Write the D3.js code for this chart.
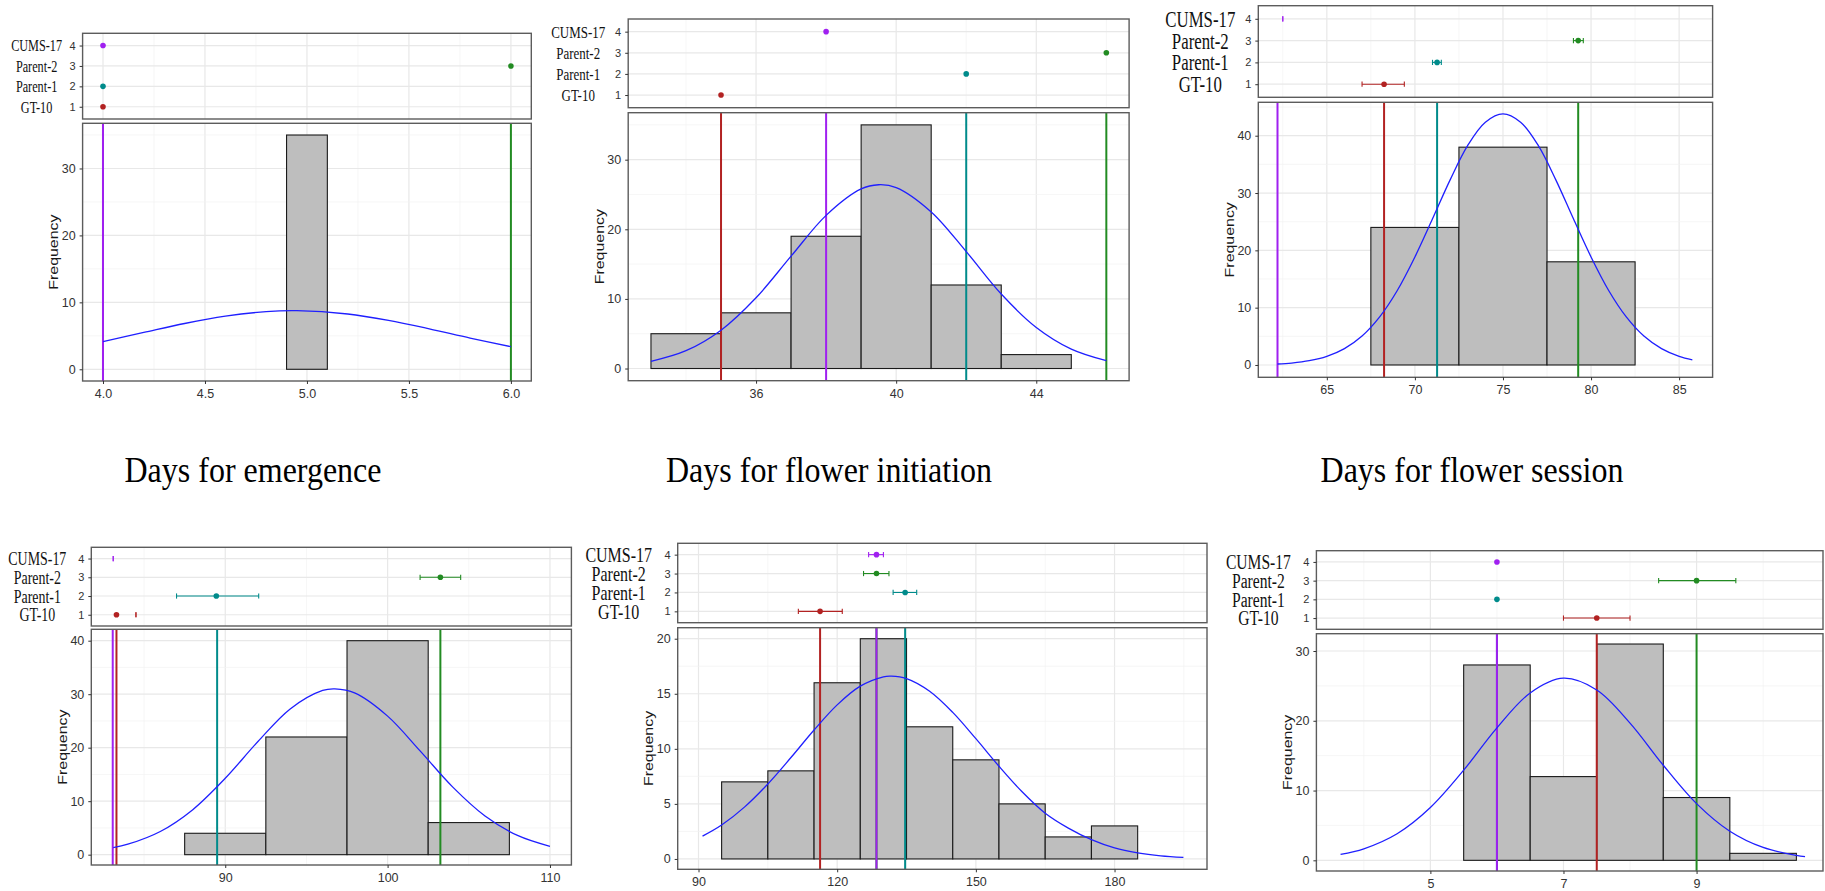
<!DOCTYPE html>
<html>
<head>
<meta charset="utf-8">
<script src="https://cdn.jsdelivr.net/npm/d3@7"></script>
<style>
  body { margin: 0; background: #fff; }
  svg { display: block; }
</style>
</head>
<body>
<svg id="fig" width="1825" height="891"></svg>
<script>
const SVG = d3.select("#fig");

// genotypes, drawn in this order (CUMS-17 last, so it sits on top)
const GENOTYPES = ["GT-10", "Parent-1", "Parent-2", "CUMS-17"];
const GENO_COLORS = ["#b22222", "#008b8b", "#228b22", "#a020f0"];
const TITLES = ["Days for emergence", "Days for flower initiation", "Days for flower session"];

// --- Days for emergence
const EMERGENCE_EDGES = [4.1, 4.3, 4.5, 4.7, 4.9, 5.1, 5.3, 5.5, 5.7, 5.9];
const EMERGENCE_COUNTS = [0, 0, 0, 0, 35, 0, 0, 0, 0];
const EMERGENCE_CURVE_X = [4.0, 4.2, 4.4, 4.6, 4.8, 4.95, 5.2, 5.4, 5.6, 5.8, 6.0];
const EMERGENCE_CURVE_Y = [4.14, 5.5, 6.84, 7.93, 8.61, 8.75, 8.26, 7.31, 6.05, 4.67, 3.38];
const EMERGENCE_MEANS = [4.0, 4.0, 6.0, 4.0];
const EMERGENCE_POINTS = [4.0, 4.0, 6.0, 4.0];
const EMERGENCE_LO = [null, null, null, null];
const EMERGENCE_HI = [null, null, null, null];
const EMERGENCE_X_TICKS = [4.0, 4.5, 5.0, 5.5, 6.0];
const EMERGENCE_X_MINOR = [4.25, 4.75, 5.25, 5.75];
const EMERGENCE_Y_TICKS = [0, 10, 20, 30];
const EMERGENCE_Y_MINOR = [5, 15, 25, 35];

// --- Days for flower initiation
const INITIATION_EDGES = [33, 35, 37, 39, 41, 43, 45];
const INITIATION_COUNTS = [5, 8, 19, 35, 12, 2];
const INITIATION_CURVE_X = [33, 34, 35, 36, 37, 38, 39, 39.5, 40, 41, 42, 43, 44, 45, 46];
const INITIATION_CURVE_Y = [1.03, 2.56, 5.51, 10.17, 16.14, 22.0, 25.8, 26.4, 26.0, 22.5, 16.8, 10.7, 5.9, 2.79, 1.13];
const INITIATION_MEANS = [35, 42, 46, 38];
const INITIATION_POINTS = [35, 42, 46, 38];
const INITIATION_LO = [null, null, null, null];
const INITIATION_HI = [null, null, null, null];
const INITIATION_X_TICKS = [36, 40, 44];
const INITIATION_X_MINOR = [34, 38, 42, 46];
const INITIATION_Y_TICKS = [0, 10, 20, 30];
const INITIATION_Y_MINOR = [5, 15, 25, 35];

// --- Days for flower session
const SESSION_EDGES = [62.5, 67.5, 72.5, 77.5, 82.5];
const SESSION_COUNTS = [0, 24, 38, 18];
const SESSION_CURVE_X = [62.2, 63, 64, 65, 66, 67, 68, 69, 70, 71, 72, 73, 74, 75, 76, 77, 78, 79, 80, 81, 82, 83, 84, 85, 85.75];
const SESSION_CURVE_Y = [0.17, 0.34, 0.74, 1.5, 2.85, 5.05, 8.39, 13.0, 18.85, 25.5, 32.3, 38.3, 42.35, 43.8, 42.35, 38.3, 32.3, 25.5, 18.85, 13.0, 8.39, 5.05, 2.85, 1.5, 0.89];
const SESSION_MEANS = [68.25, 71.26, 79.27, 62.2];
const SESSION_POINTS = [68.25, 71.26, 79.27, null];
const SESSION_LO = [67.0, 71.0, 79.0, 62.5];
const SESSION_HI = [69.4, 71.5, 79.56, 62.5];
const SESSION_X_TICKS = [65, 70, 75, 80, 85];
const SESSION_X_MINOR = [62.5, 67.5, 72.5, 77.5, 82.5];
const SESSION_Y_TICKS = [0, 10, 20, 30, 40];
const SESSION_Y_MINOR = [5, 15, 25, 35, 45];

// --- bottom row, left
const PANEL_D_EDGES = [87.5, 92.5, 97.5, 102.5, 107.5];
const PANEL_D_COUNTS = [4, 22, 40, 6];
const PANEL_D_CURVE_X = [83.1, 84, 86, 88, 90, 92, 94, 96, 96.75, 98, 100, 102, 104, 106, 108, 110];
const PANEL_D_CURVE_Y = [1.3, 1.95, 4.34, 8.42, 14.28, 21.1, 27.25, 30.7, 31.0, 30.2, 25.9, 19.4, 12.67, 7.23, 3.6, 1.56];
const PANEL_D_MEANS = [83.3, 89.5, 103.25, 83.07];
const PANEL_D_POINTS = [83.3, 89.45, 103.25, null];
const PANEL_D_LO = [84.5, 87.0, 102.0, 83.1];
const PANEL_D_HI = [84.5, 92.06, 104.5, 83.1];
const PANEL_D_X_TICKS = [90, 100, 110];
const PANEL_D_X_MINOR = [85, 95, 105];
const PANEL_D_Y_TICKS = [0, 10, 20, 30, 40];
const PANEL_D_Y_MINOR = [5, 15, 25, 35];

// --- bottom row, middle
const PANEL_E_EDGES = [95, 105, 115, 125, 135, 145, 155, 165, 175, 185];
const PANEL_E_COUNTS = [7, 8, 16, 20, 12, 9, 5, 2, 3];
const PANEL_E_CURVE_X = [90.87, 95, 100, 105, 110, 115, 120, 125, 130, 131.7, 135, 140, 145, 150, 155, 160, 165, 170, 175, 180, 185, 190, 194.9];
const PANEL_E_CURVE_Y = [2.07, 3.08, 4.73, 6.81, 9.21, 11.71, 13.99, 15.69, 16.54, 16.6, 16.38, 15.23, 13.31, 10.92, 8.42, 6.1, 4.15, 2.8, 1.75, 1.0, 0.55, 0.28, 0.14];
const PANEL_E_MEANS = [116.3, 134.7, 128.5, 128.5];
const PANEL_E_POINTS = [116.3, 134.7, 128.5, 128.5];
const PANEL_E_LO = [111.6, 132.1, 125.7, 126.8];
const PANEL_E_HI = [121.1, 137.2, 131.2, 130.0];
const PANEL_E_X_TICKS = [90, 120, 150, 180];
const PANEL_E_X_MINOR = [105, 135, 165, 195];
const PANEL_E_Y_TICKS = [0, 5, 10, 15, 20];
const PANEL_E_Y_MINOR = [2.5, 7.5, 12.5, 17.5];

// --- bottom row, right
const PANEL_F_EDGES = [4.5, 5.5, 6.5, 7.5, 8.5, 9.5, 10.5];
const PANEL_F_COUNTS = [0, 28, 12, 31, 9, 1];
const PANEL_F_CURVE_X = [3.65, 4, 4.5, 5, 5.5, 6, 6.5, 7, 7.5, 8, 8.5, 9, 9.5, 10, 10.5, 10.63];
const PANEL_F_CURVE_Y = [0.84, 1.65, 3.81, 7.57, 12.92, 18.98, 23.99, 26.1, 24.42, 19.67, 13.63, 8.13, 4.17, 1.84, 0.7, 0.53];
const PANEL_F_MEANS = [7.5, 6.0, 9.0, 6.0];
const PANEL_F_POINTS = [7.5, 6.0, 9.0, 6.0];
const PANEL_F_LO = [7.0, null, 8.43, null];
const PANEL_F_HI = [8.0, null, 9.59, null];
const PANEL_F_X_TICKS = [5, 7, 9];
const PANEL_F_X_MINOR = [4, 6, 8, 10];
const PANEL_F_Y_TICKS = [0, 10, 20, 30];
const PANEL_F_Y_MINOR = [5, 15, 25];

const PANELS = [
  { edges: EMERGENCE_EDGES, counts: EMERGENCE_COUNTS, cx: EMERGENCE_CURVE_X, cy: EMERGENCE_CURVE_Y,
    means: EMERGENCE_MEANS, points: EMERGENCE_POINTS, lo: EMERGENCE_LO, hi: EMERGENCE_HI,
    xTicks: EMERGENCE_X_TICKS, xMinor: EMERGENCE_X_MINOR, yTicks: EMERGENCE_Y_TICKS, yMinor: EMERGENCE_Y_MINOR,
    fmt: d3.format(".1f"), title: TITLES[0] },
  { edges: INITIATION_EDGES, counts: INITIATION_COUNTS, cx: INITIATION_CURVE_X, cy: INITIATION_CURVE_Y,
    means: INITIATION_MEANS, points: INITIATION_POINTS, lo: INITIATION_LO, hi: INITIATION_HI,
    xTicks: INITIATION_X_TICKS, xMinor: INITIATION_X_MINOR, yTicks: INITIATION_Y_TICKS, yMinor: INITIATION_Y_MINOR,
    fmt: d3.format("d"), title: TITLES[1] },
  { edges: SESSION_EDGES, counts: SESSION_COUNTS, cx: SESSION_CURVE_X, cy: SESSION_CURVE_Y,
    means: SESSION_MEANS, points: SESSION_POINTS, lo: SESSION_LO, hi: SESSION_HI,
    xTicks: SESSION_X_TICKS, xMinor: SESSION_X_MINOR, yTicks: SESSION_Y_TICKS, yMinor: SESSION_Y_MINOR,
    fmt: d3.format("d"), title: TITLES[2] },
  { edges: PANEL_D_EDGES, counts: PANEL_D_COUNTS, cx: PANEL_D_CURVE_X, cy: PANEL_D_CURVE_Y,
    means: PANEL_D_MEANS, points: PANEL_D_POINTS, lo: PANEL_D_LO, hi: PANEL_D_HI,
    xTicks: PANEL_D_X_TICKS, xMinor: PANEL_D_X_MINOR, yTicks: PANEL_D_Y_TICKS, yMinor: PANEL_D_Y_MINOR,
    fmt: d3.format("d"), title: null },
  { edges: PANEL_E_EDGES, counts: PANEL_E_COUNTS, cx: PANEL_E_CURVE_X, cy: PANEL_E_CURVE_Y,
    means: PANEL_E_MEANS, points: PANEL_E_POINTS, lo: PANEL_E_LO, hi: PANEL_E_HI,
    xTicks: PANEL_E_X_TICKS, xMinor: PANEL_E_X_MINOR, yTicks: PANEL_E_Y_TICKS, yMinor: PANEL_E_Y_MINOR,
    fmt: d3.format("d"), title: null },
  { edges: PANEL_F_EDGES, counts: PANEL_F_COUNTS, cx: PANEL_F_CURVE_X, cy: PANEL_F_CURVE_Y,
    means: PANEL_F_MEANS, points: PANEL_F_POINTS, lo: PANEL_F_LO, hi: PANEL_F_HI,
    xTicks: PANEL_F_X_TICKS, xMinor: PANEL_F_X_MINOR, yTicks: PANEL_F_Y_TICKS, yMinor: PANEL_F_Y_MINOR,
    fmt: d3.format("d"), title: null }
];

// where each small multiple sits on the page (pixels) + axis ranges
const LAYOUT = [
  { x0: 82.6, x1: 531.3, xDom: [3.9, 6.1], top: [33.3, 119], bot: [123.3, 381], yDom: [-1.75, 36.75], lfs: 15.3, ldx: -46, tx: 253 },
  { x0: 628.2, x1: 1129.1, xDom: [32.35, 46.65], top: [19, 107.7], bot: [112.7, 380.7], yDom: [-1.75, 36.75], lfs: 16.2, ldx: -50, tx: 829 },
  { x0: 1258.3, x1: 1712.6, xDom: [61.11, 86.9], top: [5.7, 97.3], bot: [102.3, 377.3], yDom: [-2.15, 45.83], lfs: 21, ldx: -58, tx: 1472 },
  { x0: 91.3, x1: 571.4, xDom: [81.75, 111.32], top: [547.3, 626], bot: [629.3, 865], yDom: [-1.93, 42.13], lfs: 17.4, ldx: -54 },
  { x0: 677.7, x1: 1207, xDom: [85.5, 200.0], top: [543.3, 622.7], bot: [627.7, 869.3], yDom: [-0.94, 21.0], lfs: 20, ldx: -59 },
  { x0: 1316.4, x1: 1823, xDom: [3.287, 10.9], top: [550.7, 629.3], bot: [633.7, 871], yDom: [-1.53, 32.48], lfs: 19.5, ldx: -58 }
];

const SANS = "'Liberation Sans', Arial, sans-serif";
const SERIF = "'Liberation Serif', 'Times New Roman', serif";

function styleAxis(g, size) {
  g.select(".domain").remove();
  g.selectAll(".tick line").attr("stroke", "#333").attr("stroke-width", 1);
  g.selectAll(".tick text")
    .attr("fill", "#333")
    .style("font-family", SANS)
    .style("font-size", size + "px");
}

function drawPanel(p, L) {
  const g = SVG.append("g");
  const x = d3.scaleLinear().domain(L.xDom).range([L.x0, L.x1]);
  const yTop = d3.scaleLinear().domain([0.4, 4.6]).range([L.top[1], L.top[0]]);
  const y = d3.scaleLinear().domain(L.yDom).range([L.bot[1], L.bot[0]]);
  const inX = v => v >= L.xDom[0] && v <= L.xDom[1];
  const inY = v => v >= L.yDom[0] && v <= L.yDom[1];

  // panel backgrounds
  [L.top, L.bot].forEach(r => {
    g.append("rect").attr("x", L.x0).attr("y", r[0])
      .attr("width", L.x1 - L.x0).attr("height", r[1] - r[0]).attr("fill", "#fff");
  });

  // grid: vertical lines in both panels
  [L.top, L.bot].forEach(r => {
    g.selectAll(null).data(p.xMinor.filter(inX)).enter().append("line")
      .attr("x1", d => x(d)).attr("x2", d => x(d)).attr("y1", r[0]).attr("y2", r[1])
      .attr("stroke", "#f2f2f2").attr("stroke-width", 0.7);
    g.selectAll(null).data(p.xTicks.filter(inX)).enter().append("line")
      .attr("x1", d => x(d)).attr("x2", d => x(d)).attr("y1", r[0]).attr("y2", r[1])
      .attr("stroke", "#e8e8e8").attr("stroke-width", 1.2);
  });
  g.selectAll(null).data([1, 2, 3, 4]).enter().append("line")
    .attr("x1", L.x0).attr("x2", L.x1).attr("y1", d => yTop(d)).attr("y2", d => yTop(d))
    .attr("stroke", "#e8e8e8").attr("stroke-width", 1.2);
  g.selectAll(null).data(p.yMinor.filter(inY)).enter().append("line")
    .attr("x1", L.x0).attr("x2", L.x1).attr("y1", d => y(d)).attr("y2", d => y(d))
    .attr("stroke", "#f2f2f2").attr("stroke-width", 0.7);
  g.selectAll(null).data(p.yTicks).enter().append("line")
    .attr("x1", L.x0).attr("x2", L.x1).attr("y1", d => y(d)).attr("y2", d => y(d))
    .attr("stroke", "#e8e8e8").attr("stroke-width", 1.2);

  // histogram
  const bins = d3.pairs(p.edges).map((e, i) => ({ x0: e[0], x1: e[1], n: p.counts[i] }));
  g.selectAll(null).data(bins).enter().append("rect")
    .attr("x", d => x(d.x0)).attr("width", d => x(d.x1) - x(d.x0))
    .attr("y", d => y(d.n)).attr("height", d => y(0) - y(d.n))
    .attr("fill", "#bebebe").attr("stroke", "#1a1a1a").attr("stroke-width", 1.1);

  // vertical lines for genotype means
  p.means.forEach((m, i) => {
    g.append("line").attr("x1", x(m)).attr("x2", x(m))
      .attr("y1", L.bot[0]).attr("y2", L.bot[1])
      .attr("stroke", GENO_COLORS[i]).attr("stroke-width", 2);
  });

  // fitted curve
  const pts = p.cx.map((v, i) => [v, p.cy[i]]);
  g.append("path").datum(pts)
    .attr("d", d3.line().x(d => x(d[0])).y(d => y(d[1])).curve(d3.curveCatmullRom))
    .attr("fill", "none").attr("stroke", "#1f1fff").attr("stroke-width", 1.3);

  // top panel: means with error bars
  GENOTYPES.forEach((name, i) => {
    const yy = yTop(i + 1);
    const c = GENO_COLORS[i];
    if (p.lo[i] !== null) {
      g.append("line").attr("x1", x(p.lo[i])).attr("x2", x(p.hi[i]))
        .attr("y1", yy).attr("y2", yy).attr("stroke", c).attr("stroke-width", 1.1);
      [p.lo[i], p.hi[i]].forEach(v => {
        g.append("line").attr("x1", x(v)).attr("x2", x(v))
          .attr("y1", yy - 2.6).attr("y2", yy + 2.6).attr("stroke", c).attr("stroke-width", 1.1);
      });
    }
    if (p.points[i] !== null) {
      g.append("circle").attr("cx", x(p.points[i])).attr("cy", yy).attr("r", 2.8).attr("fill", c);
    }
    // genotype names (serif, added next to the numeric ticks)
    g.append("text")
      .attr("transform", `translate(${L.x0 + L.ldx},${yy}) scale(0.8,1.05)`)
      .attr("dy", "0.36em").attr("text-anchor", "middle")
      .style("font-family", SERIF).style("font-size", L.lfs + "px")
      .attr("fill", "#111").text(name);
  });

  // borders
  [L.top, L.bot].forEach(r => {
    g.append("rect").attr("x", L.x0).attr("y", r[0])
      .attr("width", L.x1 - L.x0).attr("height", r[1] - r[0])
      .attr("fill", "none").attr("stroke", "#5c5c5c").attr("stroke-width", 1.4);
  });

  // axes
  g.append("g").attr("transform", `translate(0,${L.bot[1]})`)
    .call(d3.axisBottom(x).tickValues(p.xTicks).tickFormat(p.fmt).tickSize(3).tickPadding(5))
    .call(a => styleAxis(a, 12.5));
  g.append("g").attr("transform", `translate(${L.x0},0)`)
    .call(d3.axisLeft(y).tickValues(p.yTicks).tickSize(3).tickPadding(4))
    .call(a => styleAxis(a, 12.5));
  g.append("g").attr("transform", `translate(${L.x0},0)`)
    .call(d3.axisLeft(yTop).tickValues([1, 2, 3, 4]).tickFormat(d3.format("d")).tickSize(3).tickPadding(4))
    .call(a => styleAxis(a, 11));

  // y title
  g.append("text")
    .attr("transform", `translate(${L.x0 - 29},${(L.bot[0] + L.bot[1]) / 2}) rotate(-90) scale(1.18,1)`)
    .attr("dy", "0.35em").attr("text-anchor", "middle")
    .style("font-family", SANS).style("font-size", "13.5px")
    .attr("fill", "#1a1a1a").text("Frequency");

  // trait caption under the top row
  if (p.title) {
    SVG.append("text")
      .attr("transform", `translate(${L.tx},482) scale(1,1.1)`)
      .attr("text-anchor", "middle")
      .style("font-family", SERIF).style("font-size", "32px")
      .attr("fill", "#000").text(p.title);
  }
}

PANELS.forEach((p, i) => drawPanel(p, LAYOUT[i]));
</script>
</body>
</html>
